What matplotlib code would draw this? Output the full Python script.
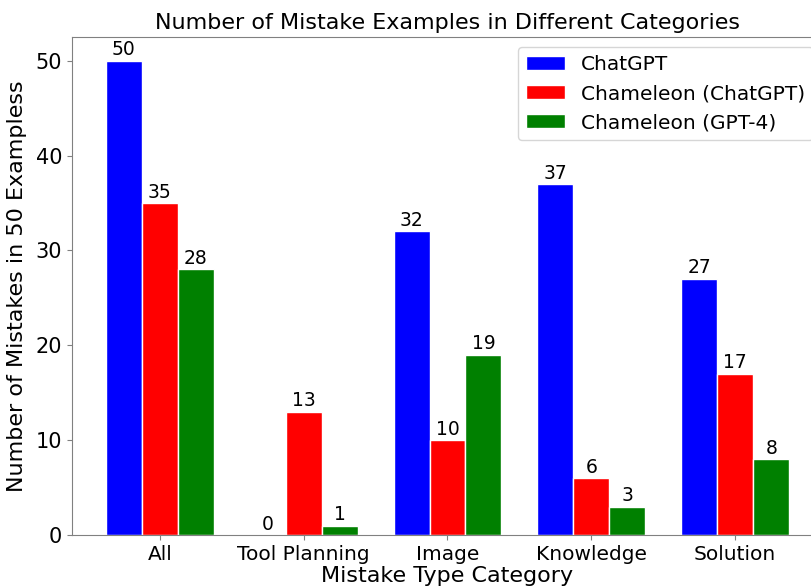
import matplotlib
matplotlib.use("Agg")
import matplotlib.pyplot as plt
import numpy as np

categories = ["All", "Tool Planning", "Image", "Knowledge", "Solution"]
series_names = ["ChatGPT", "Chameleon (ChatGPT)", "Chameleon (GPT-4)"]
chatgpt = [50, 0, 32, 37, 27]
chameleon_chatgpt = [35, 13, 10, 6, 17]
chameleon_gpt4 = [28, 1, 19, 3, 8]
colors = ["blue", "red", "green"]

fig = plt.figure(figsize=(8.11, 5.87), dpi=100)
ax = fig.add_axes([72 / 811, 52 / 587, (823 - 72) / 811, (535 - 37) / 587])

x = np.arange(len(categories))
width = 0.25
for i, (vals, name, c) in enumerate(zip([chatgpt, chameleon_chatgpt, chameleon_gpt4], series_names, colors)):
    bars = ax.bar(x + (i - 1) * width, vals, width, label=name, color=c,
                  edgecolor="white", linewidth=1)
    ax.bar_label(bars, padding=1, fontsize=13.5)

ax.set_xlim(-0.61, 4.61)
ax.set_ylim(0, 52.5)
ax.set_xticks(x)
ax.set_xticklabels(categories, fontsize=14.5)
ax.set_yticks([0, 10, 20, 30, 40, 50])
ax.tick_params(axis="y", labelsize=15, color="gray")
ax.tick_params(axis="x", color="gray")
for s in ax.spines.values():
    s.set_color("gray")

ax.set_xlabel("Mistake Type Category", fontsize=16, labelpad=2)
ax.set_ylabel("Number of Mistakes in 50 Exampless", fontsize=16, labelpad=6)
ax.set_title("Number of Mistake Examples in Different Categories", fontsize=16, pad=6)
ax.legend(loc="upper right", fontsize=14.5, handlelength=1.9)

fig.savefig("out.png", dpi=100)
